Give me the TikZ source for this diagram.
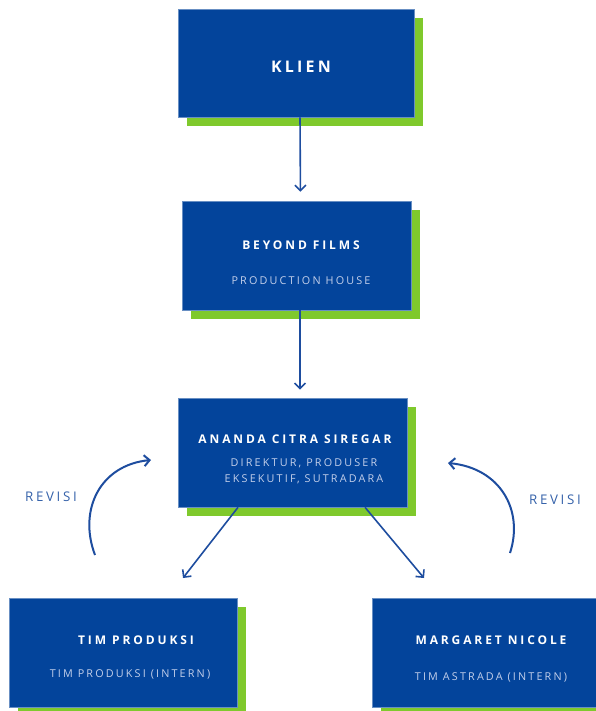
\documentclass[tikz,border=0pt]{standalone}
\usepackage{fontspec}
\setmainfont{Open Sans}
\newfontfamily\spaced[LetterSpace=20]{Open Sans}
\newfontfamily\spacedwide[LetterSpace=24]{Open Sans}
\usetikzlibrary{arrows.meta,shadows,positioning}
\definecolor{boxblue}{HTML}{03449B}
\definecolor{shadowgreen}{HTML}{7FC92C}
\definecolor{subblue}{HTML}{C3CFEA}
\definecolor{lineblue}{HTML}{1E4D9F}
\definecolor{revblue}{HTML}{3461A9}

\tikzset{
  box/.style={fill=boxblue, draw=boxblue!60!white, line width=0.6pt,
    minimum width=229pt, minimum height=109pt, inner sep=0pt,
    general shadow={fill=shadowgreen, shadow xshift=9pt, shadow yshift=-9pt}},
  title/.style={text=white, font=\spacedwide\bfseries\fontsize{12}{14}\selectfont, inner sep=0pt},
  subtitle/.style={text=subblue, font=\spaced\fontsize{10.8}{16}\selectfont, align=center, inner sep=0pt},
  revisi/.style={text=revblue, font=\spaced\fontsize{13.3}{15}\selectfont, inner sep=0pt},
  link/.style={lineblue, line width=1.6pt, -{Straight Barb[length=5.5pt,width=11pt]}},
}

\begin{document}
\begin{tikzpicture}[x=1pt,y=-1pt]
\useasboundingbox (0,0) rectangle (596,711);

% Boxes
\node[box, minimum width=236pt, minimum height=108pt] (klien) at (296,63) {};
\node[box] (beyond) at (296.5,255.5) {};
\node[box] (ananda) at (292.5,452.5) {};
\node[box, minimum width=228pt] (produksi) at (123,652.5) {};
\node[box, minimum width=228pt] (margaret) at (486,652.5) {};

% Texts
\node[title, font=\spaced\bfseries\fontsize{16}{18}\selectfont] (klienT) at (301,67) {KLIEN};
\node[title] (beyondT) at (301,245) {BEYOND FILMS};
\node[subtitle] (beyondS) at (301,281) {PRODUCTION HOUSE};
\node[title] (anandaT) at (295,439) {ANANDA CITRA SIREGAR};
\node[subtitle] (anandaS) at (304,471) {DIREKTUR, PRODUSER\\EKSEKUTIF, SUTRADARA};
\node[title] (produksiT) at (136,640) {TIM PRODUKSI};
\node[subtitle] (produksiS) at (130,674) {TIM PRODUKSI (INTERN)};
\node[title] (margaretT) at (491,640) {MARGARET NICOLE};
\node[subtitle] (margaretS) at (491,677) {TIM ASTRADA (INTERN)};
\node[revisi] (revisiL) at (51,497) {REVISI};
\node[revisi] (revisiR) at (555,500) {REVISI};

% Connectors
\coordinate (produksiIn) at (183,578);
\coordinate (margaretIn) at (424,578);
\draw[link, shorten >=9pt] ([xshift=4pt]klien.south) -- ([xshift=4pt]beyond.north);
\draw[link, shorten >=8pt] ([xshift=3.5pt]beyond.south) -- ([xshift=7.5pt]ananda.north);
\draw[link] ([xshift=-54.5pt]ananda.south) -- (produksiIn);
\draw[link] ([xshift=72.5pt]ananda.south) -- (margaretIn);

% Revision loops
\coordinate (revL1) at (95,555);
\coordinate (revL2) at (151,460);
\coordinate (revR1) at (510,553);
\coordinate (revR2) at (448,463);
\draw[link, line width=2pt] (revL1) .. controls (78,510) and (100,465) .. (revL2);
\draw[link, line width=2pt] (revR1) .. controls (524,510) and (500,468) .. (revR2);
\end{tikzpicture}
\end{document}
